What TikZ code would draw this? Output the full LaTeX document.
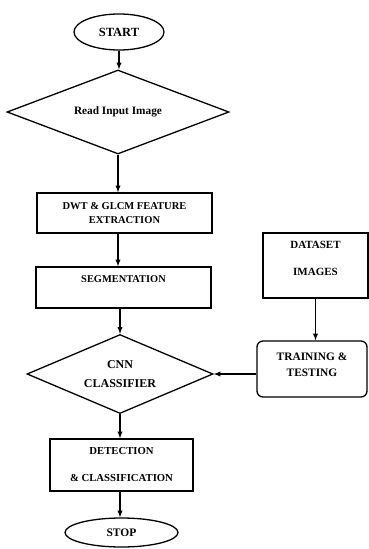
\documentclass[tikz,border=0pt]{standalone}
\usepackage{fontspec}
\setmainfont{Liberation Serif}
\usetikzlibrary{arrows}
\usetikzlibrary{shapes.geometric}

\begin{document}
\begin{tikzpicture}[x=1pt,y=-1pt]
	\tikzstyle{terminal}=[ellipse,draw,line width=1.3pt,inner sep=0pt]
	\tikzstyle{decision}=[diamond,draw,line width=1.3pt,inner sep=0pt,aspect=2.5,align=center]
	\tikzstyle{process}=[rectangle,draw,line width=1.3pt,inner sep=0pt,align=center]
	\tikzstyle{flow}=[->,>=latex,line width=1.3pt]
	\useasboundingbox (0,0) rectangle (369,549);
	\node[terminal,minimum width=90pt,minimum height=36pt,font=\bfseries\fontsize{12.5}{14}\selectfont] (start) at (119,32){START};
	\node[decision,minimum width=222pt,minimum height=84pt,font=\bfseries\fontsize{11.3}{13}\selectfont] (read) at (118,112){Read Input Image};
	\node[process,minimum width=175pt,minimum height=40pt,font=\bfseries\fontsize{10.5}{14}\selectfont] (feat) at (124.5,213){DWT \& GLCM FEATURE\\EXTRACTION};
	\node[process,minimum width=175pt,minimum height=41pt,text depth=17pt,font=\bfseries\fontsize{10.4}{12}\selectfont] (seg) at (123.5,287.5){SEGMENTATION};
	\node[decision,minimum width=186pt,minimum height=79pt,font=\bfseries\fontsize{12}{19}\selectfont] (cnn) at (120,374){CNN\\CLASSIFIER};
	\node[process,minimum width=105pt,minimum height=65pt,text depth=14pt,font=\bfseries\fontsize{11}{27}\selectfont] (data) at (315.5,265.5){DATASET\\IMAGES};
	\node[process,rounded corners=6pt,minimum width=110pt,minimum height=56pt,text depth=8pt,font=\bfseries\fontsize{11.4}{16}\selectfont] (train) at (312,369){TRAINING \&\\TESTING};
	\node[process,minimum width=143pt,minimum height=52pt,font=\bfseries\fontsize{10.7}{27}\selectfont] (detect) at (121.5,465){DETECTION\\\& CLASSIFICATION};
	\node[terminal,minimum width=113pt,minimum height=29pt,font=\bfseries\fontsize{11.5}{13}\selectfont] (stop) at (121.5,532.5){STOP};
	\draw[flow] (start.south) -- (start.south |- read.north);
	\draw[flow] (read.south) -- (read.south |- feat.north);
	\draw[flow] (read.south |- feat.south) -- (read.south |- seg.north);
	\draw[flow] (cnn.north |- seg.south) -- (cnn.north);
	\draw[flow] (data.south) -- (data.south |- train.north);
	\draw[flow] (cnn.east -| train.west) -- (cnn.east);
	\draw[flow] (cnn.south) -- (cnn.south |- detect.north);
	\draw[flow] (cnn.south |- detect.south) -- (cnn.south |- stop.north);
\end{tikzpicture}
\end{document}
